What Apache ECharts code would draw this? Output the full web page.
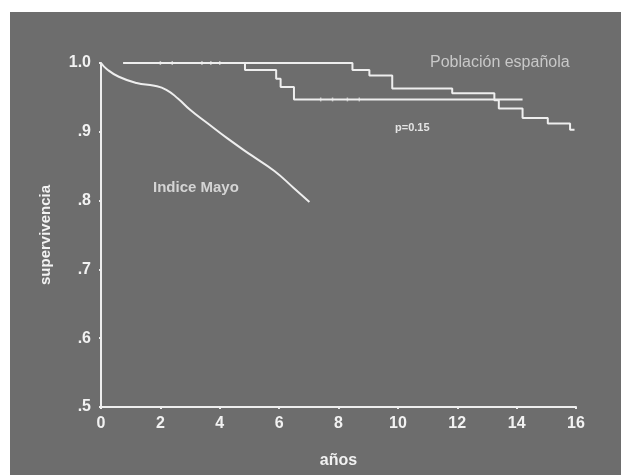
<!DOCTYPE html>
<html>
<head>
<meta charset="utf-8">
<script src="https://cdn.jsdelivr.net/npm/echarts@6/dist/echarts.min.js"></script>
<style>
  html, body { margin: 0; padding: 0; background: #fff; }
  #chart { width: 621px; height: 475px; }
</style>
</head>
<body>
<div id="chart"></div>
<script>
// años / supervivencia
const mayoData = [
  [0, 1.0], [0.2, 0.991], [0.6, 0.98], [1.2, 0.971], [1.8, 0.967],
  [2.2, 0.961], [2.6, 0.948], [3.0, 0.932], [3.6, 0.912], [4.27, 0.890],
  [5.06, 0.866], [5.84, 0.843], [6.5, 0.818], [7.02, 0.798]
];
// población española (Kaplan-Meier, escalones)
const poblacionData = [
  [0.75, 1.0], [8.47, 0.99], [9.04, 0.982], [9.81, 0.963], [11.83, 0.956],
  [13.25, 0.946], [13.4, 0.934], [14.2, 0.92], [15.05, 0.912], [15.8, 0.903],
  [15.95, 0.903]
];
// serie observada (escalones)
const observadaData = [
  [0.75, 1.0], [4.85, 0.99], [5.9, 0.977], [6.05, 0.965], [6.5, 0.947],
  [14.2, 0.947]
];
// casos censurados
const censuradosData = [
  [2.0, 1.0], [2.4, 1.0], [3.4, 1.0], [3.7, 1.0], [4.0, 1.0],
  [7.4, 0.947], [7.8, 0.947], [8.3, 0.947], [8.7, 0.947]
];
const xMin = 0, xMax = 16, xStep = 2;
const yMin = 0.5, yMax = 1.0, yStep = 0.1;

const lineColor = '#eeeeee';
const fontFam = '"Liberation Sans", Arial, sans-serif';

let chart = echarts.init(document.getElementById('chart'));

let option = {
  animation: false,
  backgroundColor: '#ffffff',
  graphic: [
    {
      type: 'rect', z: -100, silent: true,
      shape: { x: 10, y: 12, width: 611, height: 463 },
      style: { fill: '#6d6d6d' }
    },
    {
      type: 'text', left: 430, top: 55,
      style: { text: 'Población española', fill: '#c8c8c8', font: '16px ' + fontFam }
    },
    {
      type: 'text', left: 395, top: 122,
      style: { text: 'p=0.15', fill: '#e4e4e4', font: 'bold 11px ' + fontFam }
    },
    {
      type: 'text', left: 153, top: 180,
      style: { text: 'Indice Mayo', fill: '#d4d4d4', font: 'bold 15px ' + fontFam }
    }
  ],
  grid: { left: 101, right: 45, top: 63, bottom: 68 },
  xAxis: {
    type: 'value',
    min: xMin, max: xMax, interval: xStep,
    name: 'años',
    nameLocation: 'middle',
    nameGap: 46,
    nameTextStyle: { color: '#f2f2f2', fontSize: 16, fontWeight: 'bold', fontFamily: fontFam },
    axisLine: { lineStyle: { color: lineColor, width: 2 } },
    axisTick: { show: true, length: 2, lineStyle: { color: lineColor, width: 2 } },
    axisLabel: { color: '#f2f2f2', fontSize: 16, fontWeight: 'bold', fontFamily: fontFam, margin: 9 },
    splitLine: { show: false }
  },
  yAxis: {
    type: 'value',
    min: yMin, max: yMax, interval: yStep,
    name: 'supervivencia',
    nameLocation: 'middle',
    nameGap: 48,
    nameRotate: 90,
    nameTextStyle: { color: '#f2f2f2', fontSize: 15, fontWeight: 'bold', fontFamily: fontFam },
    axisLine: { lineStyle: { color: lineColor, width: 2 } },
    axisTick: { show: true, length: 2, lineStyle: { color: lineColor, width: 2 } },
    axisLabel: {
      color: '#f2f2f2', fontSize: 16, fontWeight: 'bold', fontFamily: fontFam, margin: 10,
      formatter: function (v) {
        return v >= 0.999 ? '1.0' : '.' + Math.round(v * 10);
      }
    },
    splitLine: { show: false }
  },
  series: [
    {
      name: 'Indice Mayo',
      type: 'line',
      data: mayoData,
      smooth: 0.5,
      showSymbol: false,
      lineStyle: { color: lineColor, width: 2 }
    },
    {
      name: 'Población española',
      type: 'line',
      data: poblacionData,
      step: 'end',
      showSymbol: false,
      lineStyle: { color: lineColor, width: 2 }
    },
    {
      name: 'observada',
      type: 'line',
      data: observadaData,
      step: 'end',
      showSymbol: false,
      lineStyle: { color: lineColor, width: 2 }
    },
    {
      name: 'censurados',
      type: 'scatter',
      data: censuradosData,
      symbol: 'rect',
      symbolSize: [1.5, 4],
      itemStyle: { color: '#f6f6f6', opacity: 0.6 }
    }
  ]
};

chart.setOption(option);
</script>
</body>
</html>
